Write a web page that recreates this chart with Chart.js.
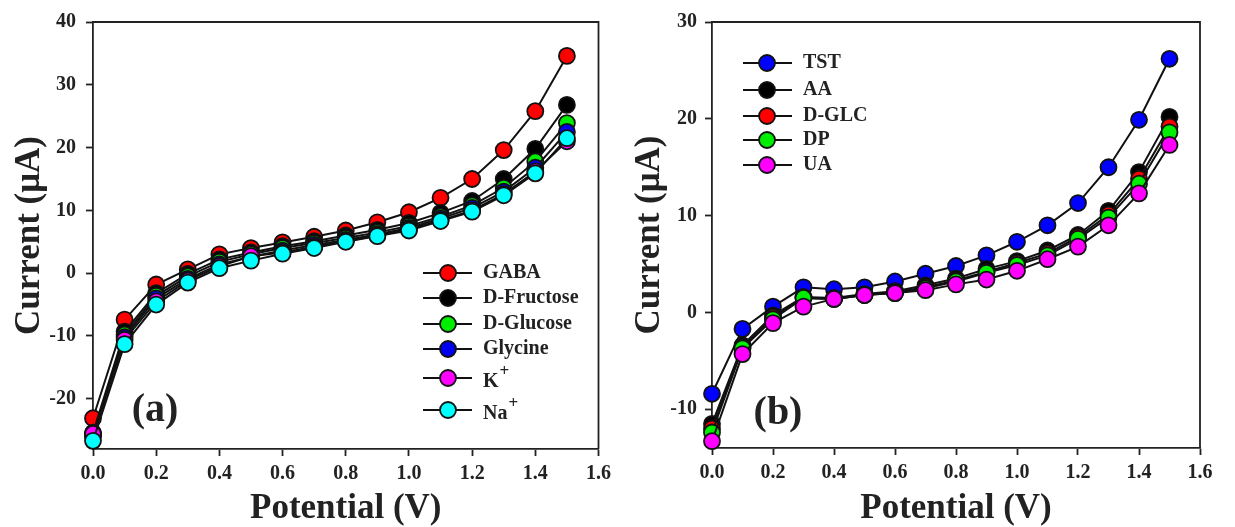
<!DOCTYPE html>
<html><head><meta charset="utf-8">
<script src="https://cdn.jsdelivr.net/npm/chart.js@4/dist/chart.umd.min.js"></script>
<style>
html,body{margin:0;padding:0;background:#fff;}
#wrap{position:relative;width:1235px;height:527px;background:#fff;}
.c{position:absolute;top:0;height:527px;}
</style></head><body>
<div id="wrap">
<div class="c" style="left:0;width:617px"><canvas id="ca"></canvas></div>
<div class="c" style="left:617px;width:618px"><canvas id="cb"></canvas></div>
</div>
<script>
// ---- data ----
const potential = [0.0,0.1,0.2,0.3,0.4,0.5,0.6,0.7,0.8,0.9,1.0,1.1,1.2,1.3,1.4,1.5];
const xTicks = [0.0,0.2,0.4,0.6,0.8,1.0,1.2,1.4,1.6];
const yTicksA = [-20,-10,0,10,20,30,40];
const yTicksB = [-10,0,10,20,30];

const namesA = ['GABA','D-Fructose','D-Glucose','Glycine','K+','Na+'];
const colorsA = ['#ff0000','#000000','#00ee00','#0000ee','#ff00ff','#00ffff'];
const gaba      = [-23.1,-7.4,-1.8,0.6,3.0,4.0,4.9,5.8,6.8,8.1,9.7,12.0,15.0,19.6,25.8,34.6];
const fructose  = [-25.4,-9.3,-3.2,-0.1,2.2,3.3,4.3,5.1,6.0,6.9,8.0,9.6,11.5,15.0,19.8,26.8];
const glucose   = [-25.8,-9.8,-3.6,-0.5,1.8,3.0,4.0,4.8,5.6,6.5,7.5,9.0,10.8,13.6,17.8,23.9];
const glycine   = [-26.0,-10.2,-4.0,-0.9,1.4,2.6,3.6,4.5,5.3,6.2,7.2,8.7,10.4,13.0,16.8,22.5];
const potassium = [-25.6,-10.6,-4.5,-1.2,1.1,2.7,3.3,4.2,5.1,6.0,7.0,8.4,10.0,12.6,16.2,21.0];
const sodium    = [-26.7,-11.3,-5.0,-1.5,0.8,2.0,3.1,4.0,5.0,5.9,6.8,8.3,9.8,12.4,15.9,21.5];

const namesB = ['TST','AA','D-GLC','DP','UA'];
const colorsB = ['#0000ff','#000000','#ff0000','#00ee00','#ff00ff'];
const tst  = [-8.4,-1.7,0.6,2.6,2.4,2.6,3.2,4.0,4.8,5.9,7.3,9.0,11.3,15.0,19.9,26.2];
const aa   = [-11.5,-3.4,-0.3,1.6,1.5,1.9,2.2,2.8,3.5,4.5,5.3,6.4,8.0,10.5,14.5,20.2];
const dglc = [-12.0,-3.6,-0.5,1.5,1.4,1.8,2.1,2.6,3.3,4.2,5.1,6.1,7.8,10.1,13.8,19.2];
const dp   = [-12.4,-3.7,-0.7,1.5,1.4,1.8,2.0,2.5,3.2,4.1,4.9,5.9,7.6,9.8,13.3,18.6];
const ua   = [-13.3,-4.3,-1.1,0.6,1.4,1.8,2.0,2.3,2.9,3.4,4.3,5.5,6.8,9.0,12.3,17.3];

const seriesA = [gaba,fructose,glucose,glycine,potassium,sodium];
const seriesB = [tst,aa,dglc,dp,ua];

// ---- styling ----
const SERIF = '"Liberation Serif","Times New Roman",serif';
const tickFont = {family: SERIF, size: 20, weight: 'bold'};
const titleFont = {family: SERIF, size: 35, weight: 'bold'};

function makeDatasets(names, colors, series) {
  return names.map((n, i) => ({
    label: n,
    data: potential.map((x, j) => ({x: x, y: series[i][j]})),
    borderColor: '#111',
    borderWidth: 2,
    pointRadius: 8,
    pointHoverRadius: 8,
    pointBackgroundColor: colors[i],
    pointBorderColor: '#111',
    pointBorderWidth: 1.8,
    tension: 0,
    fill: false,
    clip: false,
    order: names.length - 1 - i
  }));
}

const framePlugin = {
  id: 'frame',
  afterDraw(chart) {
    const {ctx, chartArea: a} = chart;
    ctx.save();
    ctx.strokeStyle = '#222';
    ctx.lineWidth = 1.8;
    ctx.beginPath();
    ctx.moveTo(a.left, a.top); ctx.lineTo(a.right, a.top); ctx.lineTo(a.right, a.bottom);
    ctx.stroke();
    ctx.restore();
  }
};

function drawLabelWithSup(ctx, text, x, y) {
  if (text === 'K+' || text === 'Na+') {
    const base = text.slice(0, -1);
    ctx.font = 'bold 20px ' + SERIF;
    ctx.fillText(base, x, y + 4);
    const w = ctx.measureText(base).width;
    ctx.font = 'bold 17px ' + SERIF;
    ctx.fillText('+', x + w + 1, y - 6);
  } else {
    ctx.font = 'bold 20px ' + SERIF;
    ctx.fillText(text, x, y);
  }
}

function legendPlugin(cfg) {
  return {
    id: 'customLegend',
    afterDraw(chart) {
      const ctx = chart.ctx;
      ctx.save();
      ctx.textBaseline = 'middle';
      ctx.textAlign = 'left';
      cfg.names.forEach((n, i) => {
        const y = cfg.rows[i];
        ctx.strokeStyle = '#111';
        ctx.lineWidth = 2.2;
        ctx.beginPath(); ctx.moveTo(cfg.x1, y); ctx.lineTo(cfg.x2, y); ctx.stroke();
        ctx.beginPath(); ctx.arc(cfg.cx, y, 8, 0, Math.PI * 2);
        ctx.fillStyle = cfg.colors[i]; ctx.fill();
        ctx.lineWidth = 1.8; ctx.stroke();
        ctx.fillStyle = '#222';
        drawLabelWithSup(ctx, n, cfg.tx, y);
      });
      ctx.font = 'bold 40px ' + SERIF;
      ctx.fillStyle = '#222';
      ctx.textAlign = 'center';
      ctx.fillText(cfg.panel, cfg.px, cfg.py);
      ctx.restore();
    }
  };
}

function makeChart(id, names, colors, series, opt) {
  return new Chart(document.getElementById(id), {
    type: 'line',
    data: {datasets: makeDatasets(names, colors, series)},
    plugins: [framePlugin, legendPlugin(opt.legend)],
    options: {
      responsive: true,
      maintainAspectRatio: false,
      animation: false,
      events: [],
      layout: {padding: {left: 0, top: opt.top, right: opt.right, bottom: 0}},
      plugins: {legend: {display: false}, tooltip: {enabled: false}},
      scales: {
        x: {
          type: 'linear', min: 0, max: 1.6,
          afterBuildTicks: s => { s.ticks = xTicks.map(v => ({value: v})); },
          afterFit: s => { s.height = opt.xh; },
          ticks: {font: tickFont, color: '#222', padding: 6, maxRotation: 0,
                  callback: v => Number(v).toFixed(1)},
          grid: {drawOnChartArea: false, drawTicks: true, tickLength: 7, tickColor: '#222', tickWidth: 1.8},
          border: {display: true, color: '#222', width: 1.8},
          title: {display: true, text: 'Potential (V)', font: titleFont, color: '#222', padding: {top: 0, bottom: -3}}
        },
        y: {
          type: 'linear', min: opt.ymin, max: opt.ymax,
          afterBuildTicks: s => { s.ticks = opt.yTicks.map(v => ({value: v})); },
          afterFit: s => { s.width = opt.yw; },
          ticks: {font: tickFont, color: '#222', padding: opt.ypad},
          grid: {drawOnChartArea: false, drawTicks: true, tickLength: 7, tickColor: '#222', tickWidth: 1.8},
          border: {display: true, color: '#222', width: 1.8},
          title: {display: true, text: 'Current (\u03bcA)', font: titleFont, color: '#222', padding: {top: opt.ytp, bottom: 0}}
        }
      }
    }
  });
}

makeChart('ca', namesA, colorsA, seriesA, {
  top: 20, right: 11, xh: 78, yw: 93, ypad: 10, ytp: 9,
  ymin: -28, ymax: 40, yTicks: yTicksA,
  legend: {names: namesA, colors: colorsA, rows: [273, 298, 324, 349, 378, 410],
           x1: 423, x2: 472, cx: 448, tx: 483, panel: '(a)', px: 155, py: 411}
});
makeChart('cb', namesB, colorsB, seriesB, {
  top: 22, right: 35, xh: 79, yw: 95, ypad: 8, ytp: 12,
  ymin: -14, ymax: 30, yTicks: yTicksB,
  legend: {names: namesB, colors: colorsB, rows: [63, 90, 116, 140, 165],
           x1: 126, x2: 175, cx: 150, tx: 186, panel: '(b)', px: 161, py: 414}
});
</script>
</body></html>
